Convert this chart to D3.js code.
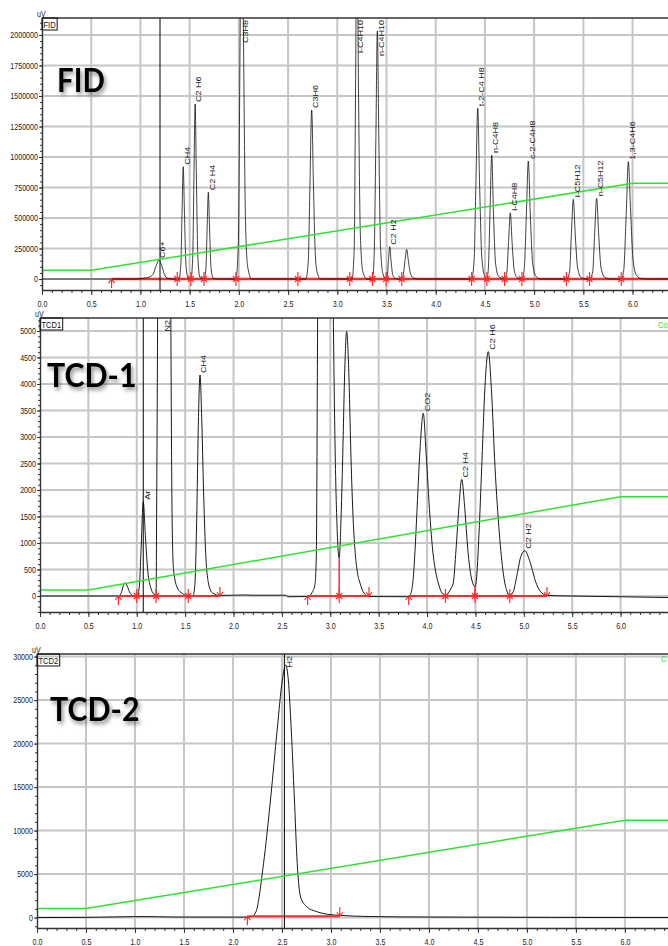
<!DOCTYPE html>
<html>
<head>
<meta charset="utf-8">
<script src="https://cdn.jsdelivr.net/npm/d3@7"></script>
<style>
body{margin:0;background:#fff;overflow:hidden;}
svg{display:block;}
</style>
</head>
<body>
<div id="chart"></div>
<script>
// shared x ticks (minutes)
const xTicks = [0.0,0.5,1.0,1.5,2.0,2.5,3.0,3.5,4.0,4.5,5.0,5.5,6.0];

// ---- FID ----
const fidYTicks = [0,250000,500000,750000,1000000,1250000,1500000,1750000,2000000];
const fidTrace = [[0,0],[0.95,0],[1.03,6000],[1.09,16000],[1.13,40000],[1.16,110000],[1.19,156000],[1.22,100000],[1.25,25000],[1.29,3000],[1.33,0],
  [1.39,0],[1.41,110000],[1.423,550000],[1.435,920000],[1.447,550000],[1.463,110000],[1.485,8000],
  [1.513,0],[1.531,170000],[1.544,860000],[1.556,1434000],[1.568,860000],[1.584,170000],[1.605,12000],
  [1.645,0],[1.665,85000],[1.678,425000],[1.69,711000],[1.702,425000],[1.718,85000],[1.74,6000],[1.78,0],
  [1.97,0],[1.995,300000],[2.012,1900000],[2.03,3500000],[2.048,1900000],[2.068,450000],[2.09,100000],[2.13,0],
  [2.68,0],[2.705,140000],[2.722,760000],[2.74,1385000],[2.758,760000],[2.778,180000],[2.8,40000],[2.83,0],
  [3.15,0],[3.172,250000],[3.185,1500000],[3.2,3000000],[3.215,1600000],[3.235,350000],[3.26,60000],[3.3,0],
  [3.357,0],[3.375,200000],[3.392,1150000],[3.407,2033000],[3.422,1150000],[3.44,250000],[3.465,40000],
  [3.496,0],[3.51,40000],[3.52,150000],[3.533,265000],[3.546,150000],[3.565,30000],[3.59,5000],[3.62,0],
  [3.655,0],[3.672,40000],[3.688,150000],[3.705,243000],[3.722,150000],[3.745,40000],[3.78,5000],[3.83,0],
  [4.365,0],[4.39,150000],[4.408,770000],[4.427,1399000],[4.446,770000],[4.468,180000],[4.495,30000],
  [4.52,0],[4.535,90000],[4.552,560000],[4.569,1016000],[4.586,560000],[4.608,130000],[4.64,20000],
  [4.70,0],[4.722,50000],[4.74,300000],[4.758,543000],[4.776,300000],[4.798,70000],[4.83,10000],
  [4.876,0],[4.9,90000],[4.921,530000],[4.941,967000],[4.961,530000],[4.985,130000],[5.02,20000],[5.07,0],
  [5.33,0],[5.36,60000],[5.378,360000],[5.398,653000],[5.418,360000],[5.442,90000],[5.48,10000],[5.53,0],
  [5.563,0],[5.595,60000],[5.614,360000],[5.635,661000],[5.656,360000],[5.68,90000],[5.72,12000],[5.77,0],
  [5.885,0],[5.91,70000],[5.935,520000],[5.957,961000],[5.98,560000],[6.005,160000],[6.04,30000],[6.09,3000],[6.15,0],[6.5,0]];
const fidPeakNames = ["C6+","CH4","C2 H6","C2 H4","C3H8","C3H6","i-C4H10","n-C4H10","C2 H2","t-2-C4 H8","n-C4H8","i-C4H8","c-2-C4H8","i-C5H12","n-C5H12","1,3-C4H6"];
const fidPeakTimes = [1.19,1.435,1.556,1.69,2.03,2.74,3.2,3.407,3.533,4.427,4.569,4.758,4.941,5.398,5.635,5.957];
const fidPeakHeights = [156000,920000,1434000,711000,3500000,1385000,3000000,2033000,265000,1399000,1016000,543000,967000,653000,661000,961000];
const fidProgram = [[0,71000],[0.5,71000],[6.0,784000],[7.0,784000]];
const fidBaseline = [[[0.707,0],[6.5,0]]];
const fidMarks = [["up",0.707],["star",1.374],["star",1.513],["star",1.645],["star",1.97],["star",2.60],["star",3.127],["star",3.357],["star",3.496],["star",3.655],["star",4.365],["star",4.52],["star",4.70],["star",4.876],["star",5.327],["star",5.563],["star",5.885]];
const fidDrops = [];
const fidWindows = [1.199];

// ---- TCD-1 ----
const tcd1YTicks = [0,500,1000,1500,2000,2500,3000,3500,4000,4500,5000];
const tcd1Trace = [[0,0],[0.81,0],[0.84,60],[0.86,190],[0.878,250],[0.9,190],[0.93,60],[0.96,10],
  [1.0,0],[1.025,150],[1.045,900],[1.067,1780],[1.09,1100],[1.115,450],[1.145,150],[1.175,40],
  [1.2,0],[1.205,1500],[1.215,5000],[1.24,20000],[1.28,35000],[1.32,20000],[1.35,6000],[1.365,1500],[1.38,500],[1.42,150],[1.47,50],
  [1.53,0],[1.58,0],[1.6,200],[1.62,1500],[1.637,3300],[1.654,4170],[1.672,3300],[1.69,2000],[1.71,900],[1.74,250],[1.78,60],
  [1.86,10],[2.1,20],[2.2,15],[2.54,15],[2.56,-15],
  [2.765,-10],[2.81,60],[2.84,200],[2.855,700],[2.87,5500],[2.95,30000],[3.03,5500],[3.05,2750],[3.07,1300],
  [3.092,711],[3.11,1400],[3.128,2600],[3.15,4300],[3.169,4990],[3.19,4300],[3.214,2600],[3.235,1500],[3.255,870],[3.28,450],[3.307,245],[3.34,80],
  [3.4,-10],[3.81,-15],[3.84,100],[3.86,400],[3.876,868],[3.893,1496],[3.927,2755],[3.961,3447],[3.99,2700],[4.03,1496],[4.058,868],[4.09,450],[4.116,245],[4.15,70],
  [4.19,10],[4.22,60],[4.25,150],[4.271,245],[4.299,868],[4.33,1700],[4.358,2200],[4.39,1650],[4.42,900],[4.45,420],[4.475,230],
  [4.495,175],[4.51,300],[4.537,1183],[4.565,2440],[4.6,4000],[4.633,4610],[4.665,3900],[4.702,2440],[4.747,1183],[4.788,428],[4.82,120],
  [4.855,20],[4.89,80],[4.93,400],[4.97,750],[5.012,855],[5.05,720],[5.09,480],[5.12,280],[5.17,90],[5.24,10],[5.5,0],[6.5,-30]];
const tcd1PeakNames = ["Ar","N2","CH4","CO2","C2 H4","C2 H6","C2 H2"];
const tcd1PeakTimes = [1.067,1.28,1.654,3.961,4.358,4.633,5.012];
const tcd1PeakHeights = [1780,35000,4170,3447,2200,4610,855];
const tcd1Program = [[0,113],[0.5,113],[6.0,1874],[7.0,1874]];
const tcd1Baseline = [[[0.81,0],[1.859,0]],[[2.765,0],[3.40,0]],[[3.81,0],[5.24,0]]];
const tcd1Marks = [["up",0.81],["star",1.0],["star",1.2],["star",1.532],["down",1.859],["up",2.765],["star",3.092],["down",3.40],["up",3.81],["star",4.19],["star",4.495],["star",4.855],["down",5.24]];
const tcd1Drops = [[3.092,711],[4.495,175]];
const tcd1Windows = [1.067];

// ---- TCD-2 ----
const tcd2YTicks = [0,5000,10000,15000,20000,25000,30000];
const tcd2Trace = [[0,0],[0.5,20],[1.1,120],[1.4,60],[2.1,50],[2.19,100],[2.234,640],[2.312,6210],[2.386,13880],[2.451,21550],[2.504,27300],[2.538,29030],
  [2.565,27300],[2.595,21550],[2.626,13880],[2.656,6210],[2.69,2370],[2.756,1220],[2.85,700],[2.93,450],[3.09,250],[3.4,120],[4.0,60],[6.5,0]];
const tcd2PeakNames = ["H2"];
const tcd2PeakTimes = [2.538];
const tcd2PeakHeights = [29030];
const tcd2Program = [[0,1036],[0.5,1036],[6.0,11197],[7.0,11197]];
const tcd2Baseline = [[[2.147,150],[3.09,150]]];
const tcd2Marks = [["up",2.147],["down",3.09]];
const tcd2Drops = [];
const tcd2Windows = [2.525];

const W = 668, H = 946, SQ = 0.84;
const svg = d3.select("#chart").append("svg").attr("width", W).attr("height", H)
  .style("font-family", "'Liberation Sans', Arial, sans-serif");
const defs = svg.append("defs");
defs.append("filter").attr("id", "shadow").attr("x", "-20%").attr("y", "-30%").attr("width", "150%").attr("height", "180%")
  .append("feDropShadow").attr("dx", 2).attr("dy", 3).attr("stdDeviation", 2.2)
  .attr("flood-color", "#000").attr("flood-opacity", 0.45);

const markPath = {
  star: "M0,-7V7M-3,-3L3,3M-3,3L3,-3",
  up: "M0,9V0M-3,4L0,0L3,4",
  down: "M0,-9V0M-3,-4L0,0L3,-4"
};

function drawPanel(cfg, d) {
  const x = d3.scaleLinear().domain([0, cfg.xMax]).range([cfg.left, W]);
  const y = d3.scaleLinear().domain([cfg.yMin, cfg.yMax]).range([cfg.bottom, cfg.top]);
  const g = svg.append("g");
  defs.append("clipPath").attr("id", "clip-" + cfg.id).append("rect")
    .attr("x", cfg.left).attr("y", cfg.top).attr("width", W - cfg.left).attr("height", cfg.bottom - cfg.top);

  // grid
  g.append("g").selectAll("line").data(d.yTicks).join("line")
    .attr("x1", cfg.left).attr("x2", W).attr("y1", v => y(v)).attr("y2", v => y(v))
    .attr("stroke", "#c6c6c6").attr("stroke-width", 2);
  g.append("g").selectAll("line").data(xTicks.filter(t => t > 0 && t < cfg.xMax)).join("line")
    .attr("x1", t => x(t)).attr("x2", t => x(t)).attr("y1", cfg.top).attr("y2", cfg.bottom)
    .attr("stroke", "#c6c6c6").attr("stroke-width", 2);

  // big title with shadow
  g.append("text").text(cfg.big)
    .attr("transform", `translate(${cfg.bigX},${cfg.bigY}) scale(0.92,1)`)
    .attr("font-family", "Lato, 'Open Sans', sans-serif").attr("font-size", cfg.bigSize).attr("font-weight", "bold")
    .attr("fill", "#050505").attr("filter", "url(#shadow)");

  const plot = g.append("g").attr("clip-path", `url(#clip-${cfg.id})`);
  const line = d3.line().x(p => x(p[0])).y(p => y(p[1]));
  const trace = d3.line().x(p => x(p[0])).y(p => y(p[1])).curve(d3.curveMonotoneX);

  const drawRed = () => {
    plot.append("g").selectAll("path").data(d.baseline).join("path")
      .attr("d", line).attr("fill", "none").attr("stroke", "#ff2b2b").attr("stroke-width", cfg.id == "fid" ? 2.6 : 2);
    plot.append("g").selectAll("line").data(d.drops).join("line")
      .attr("x1", p => x(p[0])).attr("x2", p => x(p[0])).attr("y1", y(0)).attr("y2", p => y(p[1]))
      .attr("stroke", "#ff2b2b").attr("stroke-width", 1.5);
  };
  if (cfg.id == "fid") drawRed();
  plot.append("path").datum(d.trace).attr("d", trace)
    .attr("fill", "none").attr("stroke", "#000").attr("stroke-width", 1).attr("stroke-opacity", cfg.id == "fid" ? 0.75 : 0.9);
  if (cfg.id != "fid") drawRed();

  plot.append("g").selectAll("path").data(d.marks).join("path")
    .attr("transform", m => `translate(${x(m[1])},${y(cfg.id == "tcd2" ? 150 : 0)})`)
    .attr("d", m => markPath[m[0]]).attr("fill", "none").attr("stroke", "#ff2b2b").attr("stroke-width", 1.2);

  // window lines
  plot.append("g").selectAll("line").data(d.windows).join("line")
    .attr("x1", t => x(t)).attr("x2", t => x(t)).attr("y1", cfg.top).attr("y2", cfg.bottom)
    .attr("stroke", "#000").attr("stroke-width", 1);

  // temperature program
  plot.append("path").datum(d.program).attr("d", line)
    .attr("fill", "none").attr("stroke", "#2be52b").attr("stroke-width", 1.5);

  // peak names, rotated
  d.names.forEach((name, i) => {
    const px = x(d.times[i]) + 6.3;
    const t = g.append("text").text(name).attr("font-size", 9).attr("fill", "#111");
    const len = t.node().getComputedTextLength();
    const py = Math.max(y(d.heights[i]) - 2, cfg.top + len + 2);
    t.attr("transform", `translate(${px},${py}) scale(${SQ},1) rotate(-90)`);
  });

  if (cfg.green) {
    g.append("text").text(cfg.green[2]).attr("font-size", 9).attr("fill", "#2be52b")
      .attr("transform", `translate(${cfg.green[0]},${cfg.green[1]}) scale(${SQ},1)`);
  }

  // axes
  const yAx = g.append("g").attr("transform", `translate(${cfg.left},0)`)
    .call(d3.axisLeft(y).tickValues(d.yTicks).tickSize(3).tickPadding(1).tickSizeOuter(0).tickFormat(d3.format("d")));
  g.append("g").attr("transform", `translate(${cfg.left},0)`)
    .call(d3.axisLeft(y).tickValues(d3.range(Math.ceil(cfg.yMin / cfg.minor) * cfg.minor, cfg.yMax, cfg.minor)).tickSize(2).tickFormat(""))
    .call(a => a.select(".domain").remove());
  const xAx = g.append("g").attr("transform", `translate(0,${cfg.bottom})`)
    .call(d3.axisBottom(x).tickValues(xTicks.filter(t => t <= cfg.xMax)).tickSize(5).tickPadding(6).tickSizeOuter(0).tickFormat(d3.format(".1f")));
  g.append("g").attr("transform", `translate(0,${cfg.bottom})`)
    .call(d3.axisBottom(x).tickValues(d3.range(0, cfg.xMax, 0.1)).tickSize(3).tickFormat(""))
    .call(a => a.select(".domain").remove());
  [yAx, xAx].forEach(a => {
    a.selectAll("text").attr("font-size", 8.5).attr("fill", "#222").attr("font-family", "'Liberation Sans', Arial, sans-serif");
    a.select(".domain").attr("stroke", "#333").attr("stroke-width", 1.4);
  });
  yAx.selectAll("text").attr("x", -4 / SQ).attr("transform", `scale(${SQ},1)`);
  xAx.selectAll("text").attr("transform", `scale(${SQ},1)`);
  g.selectAll(".tick line").attr("stroke", "#333");

  // top frame
  g.append("line").attr("x1", cfg.left).attr("x2", W).attr("y1", cfg.top).attr("y2", cfg.top)
    .attr("stroke", "#333").attr("stroke-width", 1.6);

  // unit and box label
  g.append("text").text("uV").attr("font-size", 8.5).attr("fill", "#222")
    .attr("transform", `translate(${cfg.left - 5},${cfg.top - 1.5}) scale(${SQ},1)`);
  const bt = g.append("text").text(cfg.box).attr("font-size", 9).attr("fill", "#111")
    .attr("transform", `translate(${cfg.left + 1.5},${cfg.top + 9.5}) scale(${SQ},1)`);
  const bw = bt.node().getComputedTextLength() * SQ + 3;
  g.append("rect").attr("x", cfg.left).attr("y", cfg.top).attr("width", bw).attr("height", 12)
    .attr("fill", "none").attr("stroke", "#111").attr("stroke-width", 1);
}

drawPanel({id: "fid", left: 42, top: 18, bottom: 290, xMax: 6.36, yMin: -90000, yMax: 2139000, minor: 50000,
  big: "FID", bigX: 57, bigY: 92, bigSize: 32, box: "FID", green: null},
  {yTicks: fidYTicks, trace: fidTrace, names: fidPeakNames, times: fidPeakTimes, heights: fidPeakHeights,
   program: fidProgram, baseline: fidBaseline, marks: fidMarks, drops: fidDrops, windows: fidWindows});

drawPanel({id: "tcd1", left: 40, top: 318, bottom: 612, xMax: 6.49, yMin: -302, yMax: 5245, minor: 100,
  big: "TCD-1", bigX: 47, bigY: 387, bigSize: 33, box: "TCD1", green: [658, 328, "Co"]},
  {yTicks: tcd1YTicks, trace: tcd1Trace, names: tcd1PeakNames, times: tcd1PeakTimes, heights: tcd1PeakHeights,
   program: tcd1Program, baseline: tcd1Baseline, marks: tcd1Marks, drops: tcd1Drops, windows: tcd1Windows});

drawPanel({id: "tcd2", left: 37, top: 654, bottom: 928, xMax: 6.44, yMin: -1200, yMax: 30300, minor: 1000,
  big: "TCD-2", bigX: 50, bigY: 721, bigSize: 33, box: "TCD2", green: [661, 662, "C"]},
  {yTicks: tcd2YTicks, trace: tcd2Trace, names: tcd2PeakNames, times: tcd2PeakTimes, heights: tcd2PeakHeights,
   program: tcd2Program, baseline: tcd2Baseline, marks: tcd2Marks, drops: tcd2Drops, windows: tcd2Windows});
</script>
</body>
</html>
